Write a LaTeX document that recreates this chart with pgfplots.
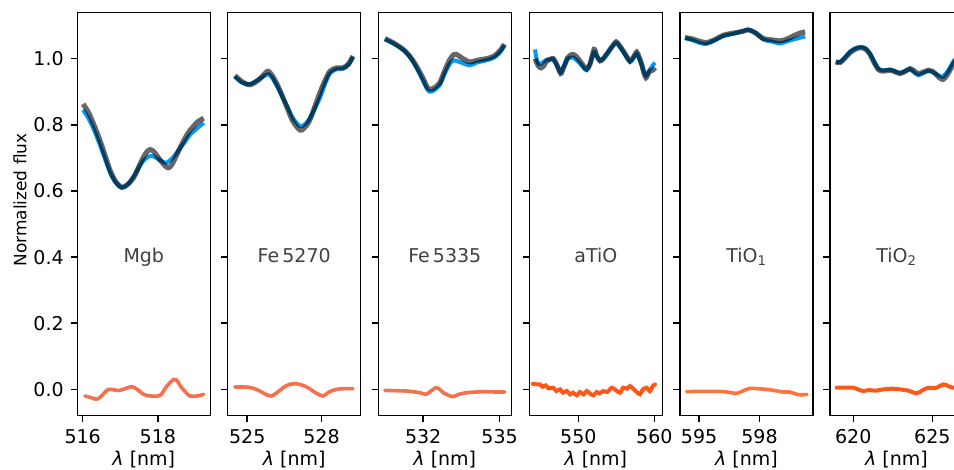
\documentclass[border=0pt]{standalone}
\usepackage{pgfplots}
\pgfplotsset{compat=1.18}
\usepackage{fontspec}
\setmainfont{DejaVu Sans}
\setsansfont{DejaVu Sans}
\definecolor{specblue}{HTML}{069AF3}
\definecolor{resid}{HTML}{FF4500}
\definecolor{residlight}{HTML}{F5704E}
\definecolor{labgrey}{HTML}{404040}
\tikzset{
  lab/.style={anchor=base, text=labgrey, font=\fontsize{19}{22}\selectfont},
}
\pgfplotsset{
  panel/.style={
    scale only axis, width=133pt, height=402.8pt,
    anchor=south west,
    ymin=-0.079, ymax=1.139,
    axis line style={line width=1.5pt},
    every tick/.style={line width=1.5pt, black},
    major tick length=6.7pt,
    tick align=outside,
    xtick pos=lower, ytick pos=left,
    ytick={0,0.2,0.4,0.6,0.8,1.0},
    yticklabels={},
    /pgf/number format/assume math mode=true,
    tick label style={font=\fontsize{19}{22}\selectfont},
    xticklabel style={anchor=north, inner sep=0pt, yshift=-6.7pt},
    yticklabel style={anchor=east, inner sep=0pt, xshift=-6.7pt},
    xlabel={{\itshape λ} [nm]},
    xlabel style={font=\fontsize{19}{22}\selectfont, anchor=base, at={(rel axis cs:0.5,0)}, yshift=-49.7pt},
    clip=false,
  },
  specline/.style={color=specblue, line width=4pt, smooth, no markers},
  modline/.style={color=black, opacity=0.6, line width=5pt, smooth, no markers},
  resdots/.style={color=residlight, line width=3.6pt, smooth, no markers, line cap=round},
  resline/.style={color=resid, opacity=0.9, line width=4pt, smooth, no markers, line cap=round},
}
\begin{document}
\begin{tikzpicture}
% Panel 1: Mgb
\begin{axis}[panel, at={(77.3pt,54.5pt)}, xmin=515.856, xmax=519.395,
  xtick={516,518}, xticklabels={516,518},
  yticklabels={0.0,0.2,0.4,0.6,0.8,1.0}]
\addplot[specline] coordinates {(516.01,0.845)(516.15,0.82)(516.28,0.79)(516.42,0.75)(516.55,0.71)(516.73,0.655)(516.88,0.625)(517.04,0.610)(517.2,0.620)(517.36,0.645)(517.5,0.672)(517.62,0.692)(517.80,0.706)(517.95,0.700)(518.1,0.690)(518.22,0.685)(518.35,0.695)(518.5,0.715)(518.7,0.745)(518.86,0.770)(519.05,0.790)(519.22,0.806)};
\addplot[modline] coordinates {(516.01,0.863)(516.15,0.838)(516.28,0.805)(516.42,0.765)(516.55,0.723)(516.73,0.662)(516.88,0.628)(517.04,0.611)(517.2,0.620)(517.36,0.641)(517.5,0.675)(517.62,0.703)(517.72,0.720)(517.80,0.725)(517.9,0.718)(518.07,0.692)(518.2,0.675)(518.29,0.670)(518.4,0.685)(518.6,0.733)(518.75,0.765)(518.86,0.784)(519.05,0.808)(519.22,0.820)};
\addplot[resdots] coordinates {(516.06,-0.02)(516.2,-0.024)(516.37,-0.03)(516.5,-0.02)(516.68,0.0)(516.85,-0.002)(516.99,-0.003)(517.15,0.003)(517.3,0.008)(517.45,0.0)(517.62,-0.015)(517.8,-0.02)(518.06,-0.018)(518.24,0.01)(518.42,0.03)(518.52,0.025)(518.6,0.01)(518.75,-0.01)(518.86,-0.02)(519.05,-0.02)(519.22,-0.015)};
\node[lab] at (axis cs:517.625,0.385) {Mgb};
\end{axis}
% Panel 2: Fe5270
\begin{axis}[panel, at={(227.7pt,54.5pt)}, xmin=524.21, xmax=529.585,
  xtick={525,528}, xticklabels={525,528}]
\addplot[specline] coordinates {(524.5,0.945)(524.8,0.927)(525.11,0.923)(525.45,0.937)(525.75,0.950)(525.85,0.953)(526.0,0.943)(526.25,0.910)(526.59,0.860)(526.85,0.820)(527.13,0.796)(527.3,0.800)(527.53,0.820)(527.93,0.880)(528.15,0.925)(528.34,0.955)(528.6,0.968)(528.87,0.970)(529.1,0.982)(529.27,1.005)};
\addplot[modline] coordinates {(524.5,0.949)(524.8,0.930)(525.11,0.921)(525.45,0.935)(525.75,0.958)(525.85,0.962)(526.0,0.950)(526.25,0.916)(526.59,0.855)(526.85,0.810)(527.13,0.784)(527.3,0.790)(527.53,0.815)(527.93,0.896)(528.15,0.935)(528.34,0.962)(528.6,0.972)(528.87,0.972)(529.1,0.985)(529.27,1.008)};
\addplot[resdots] coordinates {(524.5,0.007)(524.98,0.007)(525.25,0.003)(525.51,-0.005)(525.75,-0.015)(525.98,-0.02)(526.2,-0.01)(526.45,0.005)(526.7,0.015)(526.99,0.017)(527.25,0.012)(527.46,0.005)(527.8,-0.012)(528.07,-0.02)(528.3,-0.008)(528.6,0.0)(528.9,0.002)(529.27,0.002)};
\node[lab] at (axis cs:526.8975,0.385) {Fe\,5270};
\end{axis}
% Panel 3: Fe5335
\begin{axis}[panel, at={(378.3pt,54.5pt)}, xmin=530.24, xmax=535.46,
  xtick={532,535}, xticklabels={532,535}]
\addplot[specline] coordinates {(530.5,1.058)(530.85,1.045)(531.22,1.026)(531.5,1.003)(531.74,0.972)(532.0,0.932)(532.15,0.908)(532.26,0.900)(532.4,0.903)(532.65,0.92)(532.85,0.955)(533.05,0.985)(533.2,0.995)(533.31,0.993)(533.5,0.988)(533.83,0.980)(534.1,0.988)(534.48,0.995)(534.7,1.000)(534.87,1.008)(535.05,1.022)(535.19,1.040)};
\addplot[modline] coordinates {(530.5,1.061)(530.85,1.047)(531.22,1.028)(531.5,1.005)(531.74,0.977)(532.0,0.94)(532.15,0.915)(532.26,0.908)(532.4,0.910)(532.65,0.927)(532.85,0.965)(533.05,0.998)(533.2,1.012)(533.31,1.013)(533.5,1.003)(533.83,0.990)(534.1,0.995)(534.48,1.000)(534.7,1.005)(534.87,1.013)(535.05,1.028)(535.19,1.044)};
\addplot[resdots] coordinates {(530.5,-0.003)(530.9,-0.004)(531.35,-0.005)(531.7,-0.008)(531.87,-0.01)(532.13,-0.015)(532.3,-0.005)(532.5,0.005)(532.65,0.0)(532.79,-0.01)(533.0,-0.018)(533.18,-0.022)(533.4,-0.015)(533.71,-0.01)(534.1,-0.008)(534.49,-0.007)(534.85,-0.008)(535.2,-0.008)};
\node[lab] at (axis cs:532.85,0.385) {Fe\,5335};
\end{axis}
% Panel 4: aTiO
\begin{axis}[panel, at={(529.3pt,54.5pt)}, xmin=543.55, xmax=561.05,
  xtick={550,560}, xticklabels={550,560}]
\addplot[specline] coordinates {(544.3,1.028)(544.5,1.00)(544.74,0.985)(545.1,0.985)(545.4,0.990)(545.84,0.997)(546.3,0.998)(546.7,0.998)(547.15,0.980)(547.68,0.958)(548.0,0.972)(548.25,0.985)(548.6,1.000)(548.9,1.003)(549.34,1.003)(549.8,0.995)(550.22,0.985)(550.7,0.972)(551.1,0.965)(551.54,0.985)(552.07,1.020)(552.4,1.008)(552.86,0.995)(553.3,1.002)(553.74,1.015)(554.4,1.035)(554.97,1.048)(555.4,1.038)(555.93,1.02)(556.4,1.003)(556.8,0.99)(557.2,1.0)(557.68,1.015)(558.0,1.0)(558.34,0.98)(558.6,0.96)(558.9,0.948)(559.2,0.958)(559.43,0.968)(559.8,0.980)(560.09,0.988)};
\addplot[modline] coordinates {(544.3,1.000)(544.74,0.978)(545.1,0.972)(545.4,0.977)(545.84,0.993)(546.3,0.998)(546.7,1.000)(547.15,0.983)(547.68,0.955)(548.0,0.97)(548.25,0.983)(548.6,1.003)(548.9,1.010)(549.34,1.013)(549.8,1.005)(550.22,0.993)(550.7,0.978)(551.1,0.969)(551.54,0.983)(552.07,1.028)(552.4,1.01)(552.86,0.993)(553.3,1.0)(553.74,1.013)(554.4,1.035)(554.97,1.051)(555.4,1.04)(555.93,1.023)(556.4,1.005)(556.8,0.993)(557.2,1.003)(557.68,1.02)(558.0,1.005)(558.34,0.983)(558.6,0.96)(558.9,0.942)(559.2,0.955)(559.43,0.962)(559.8,0.965)(560.09,0.973)};
\addplot[resline] coordinates {(544.0,0.017)(544.5,0.015)(544.96,0.015)(545.3,0.008)(545.7,0.012)(546.1,0.003)(546.71,0.005)(547.1,-0.005)(547.6,0.0)(548.0,-0.01)(548.5,-0.005)(548.9,-0.015)(549.3,-0.01)(549.8,-0.018)(550.22,-0.008)(550.7,-0.015)(551.1,-0.005)(551.5,-0.012)(551.97,-0.018)(552.4,-0.008)(552.8,-0.012)(553.29,-0.005)(553.8,-0.008)(554.39,0.005)(554.9,-0.002)(555.48,-0.01)(555.9,0.005)(556.4,0.002)(556.8,0.01)(557.3,0.0)(557.7,-0.008)(558.1,-0.015)(558.5,0.0)(559.0,0.005)(559.4,-0.005)(559.8,0.01)(560.09,0.015)};
\node[lab] at (axis cs:552.3,0.385) {aTiO};
\end{axis}
% Panel 5: TiO1
\begin{axis}[panel, at={(680pt,54.5pt)}, xmin=594.05, xmax=600.66,
  xtick={595,598}, xticklabels={595,598}]
\addplot[specline] coordinates {(594.3,1.062)(594.71,1.055)(595.05,1.047)(595.38,1.045)(595.8,1.056)(596.2,1.068)(596.87,1.078)(597.2,1.084)(597.45,1.088)(597.8,1.078)(598.19,1.058)(598.6,1.052)(599.02,1.046)(599.4,1.053)(599.69,1.058)(600.0,1.063)(600.27,1.067)};
\addplot[modline] coordinates {(594.3,1.064)(594.71,1.059)(595.05,1.052)(595.38,1.049)(595.8,1.058)(596.2,1.071)(596.87,1.079)(597.2,1.083)(597.45,1.087)(597.8,1.078)(598.19,1.061)(598.6,1.057)(599.02,1.054)(599.4,1.060)(599.69,1.069)(600.0,1.077)(600.27,1.081)};
\addplot[resline, opacity=0.75, line width=3.6pt] coordinates {(594.38,-0.007)(594.9,-0.006)(595.38,-0.006)(595.9,-0.006)(596.37,-0.008)(596.87,-0.012)(597.2,-0.004)(597.53,0.003)(597.9,0.002)(598.36,0.0)(598.8,-0.004)(599.19,-0.008)(599.5,-0.008)(599.86,-0.015)(600.1,-0.017)(600.36,-0.015)};
\node[lab] at (axis cs:597.355,0.385) {TiO\textsubscript{1}};
\end{axis}
% Panel 6: TiO2
\begin{axis}[panel, at={(830pt,54.5pt)}, xmin=618.53, xmax=626.94,
  xtick={620,625}, xticklabels={620,625}]
\addplot[specline] coordinates {(618.9,0.992)(619.16,0.990)(619.5,1.005)(619.8,1.022)(620.2,1.033)(620.54,1.035)(620.8,1.030)(621.06,1.015)(621.3,0.993)(621.59,0.970)(621.9,0.965)(622.33,0.967)(622.65,0.962)(622.96,0.957)(623.3,0.963)(623.6,0.968)(623.85,0.958)(624.12,0.950)(624.45,0.957)(624.76,0.963)(625.0,0.960)(625.18,0.955)(625.45,0.948)(625.67,0.946)(625.85,0.955)(626.02,0.965)(626.38,0.995)(626.8,1.015)};
\addplot[modline] coordinates {(618.9,0.990)(619.16,0.988)(619.5,1.003)(619.8,1.018)(620.2,1.030)(620.54,1.033)(620.8,1.028)(621.06,1.013)(621.3,0.99)(621.59,0.967)(621.9,0.962)(622.33,0.965)(622.65,0.960)(622.96,0.955)(623.3,0.962)(623.6,0.970)(623.85,0.963)(624.12,0.955)(624.45,0.960)(624.76,0.965)(625.0,0.962)(625.18,0.955)(625.45,0.942)(625.67,0.937)(625.85,0.945)(626.02,0.957)(626.38,0.988)(626.8,1.01)};
\addplot[resline] coordinates {(618.95,0.005)(619.5,0.005)(620.0,0.005)(620.3,0.0)(620.63,-0.005)(621.0,-0.002)(621.4,-0.004)(621.9,0.0)(622.4,0.002)(622.96,0.0)(623.5,-0.004)(624.02,-0.012)(624.4,-0.002)(624.76,0.005)(625.2,0.004)(625.71,0.015)(626.0,0.01)(626.34,0.005)(626.8,0.005)};
\node[lab] at (axis cs:622.735,0.385) {TiO\textsubscript{2}};
\end{axis}
\node[rotate=90, font=\fontsize{17}{20}\selectfont] at (20pt,270pt) {Normalized flux};
\pgfresetboundingbox
\path[use as bounding box] (0pt,0pt) rectangle (954pt,470pt);
\end{tikzpicture}
\end{document}
